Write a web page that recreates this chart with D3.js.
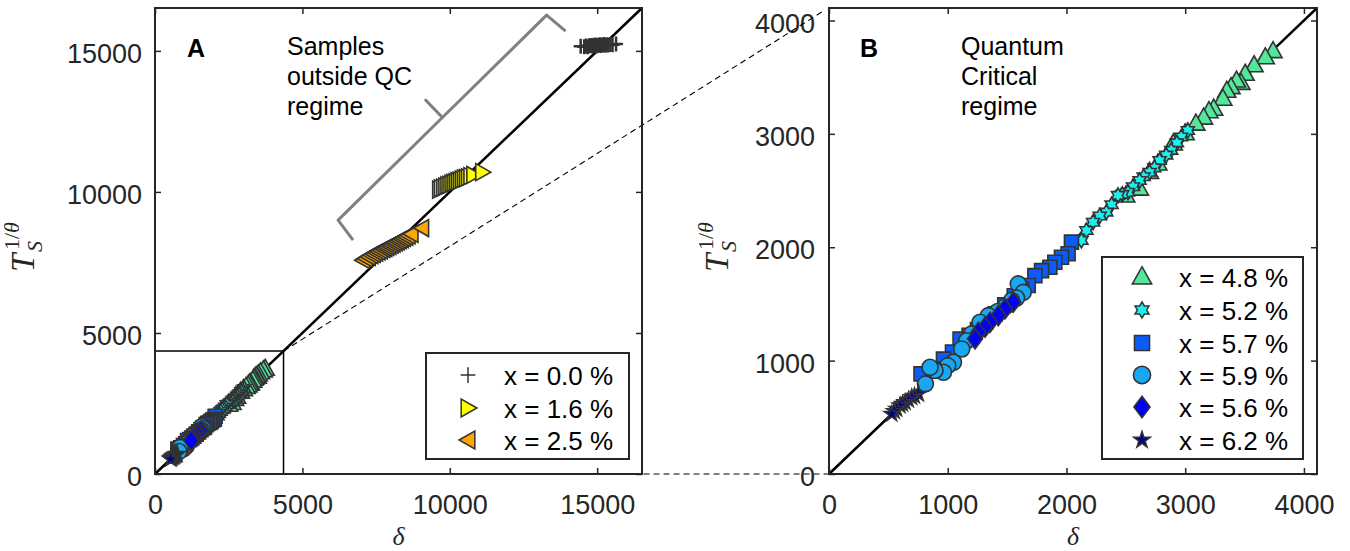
<!DOCTYPE html>
<html><head><meta charset="utf-8">
<script src="https://cdn.jsdelivr.net/npm/d3@7"></script>
<style>body{margin:0;background:#fff} svg{display:block}</style>
</head><body>
<svg id="chart" width="1350" height="551"></svg>
<script>
// ---------------- data ----------------
const x00Delta = [14440,14560,14620,14680,14730,14780,14830,14880,14920,14960,15000,15050,15090,15130,15180,15220,15270,15320,15380,15450,15520,15640];
const x00T     = [15160,15150,15170,15150,15180,15190,15170,15200,15190,15210,15180,15200,15220,15190,15210,15230,15200,15220,15210,15230,15220,15240];
const x16Delta = [9640,9700,9780,9850,9920,9990,10060,10130,10200,10270,10340,10410,10480,10550,10620,10700,10800,11100];
const x16T     = [10080,10130,10150,10190,10230,10250,10290,10320,10350,10380,10400,10440,10470,10490,10520,10560,10600,10700];
const x25Delta = [7060,7150,7250,7340,7420,7500,7580,7660,7740,7810,7880,7950,8020,8090,8160,8230,8300,8370,8440,8520,8600,8700,9060];
const x25T     = [7580,7640,7700,7760,7800,7850,7890,7930,7980,8010,8050,8090,8130,8170,8210,8250,8290,8330,8370,8410,8460,8510,8720];
const x48Delta = [3740,3675,3580,3505,3470,3432,3386,3350,3317,3240,3200,3155,3090,3000,2900,2770,2700,2615,2500];
const x48T     = [3730,3675,3605,3530,3450,3470,3412,3380,3310,3222,3200,3143,3090,3005,2915,2738,2665,2517,2456];
const x52Delta = [3022,2966,2930,2882,2840,2784,2740,2700,2650,2616,2560,2518,2470,2434,2380,2336,2280,2224,2168,2126];
const x52T     = [3030,2972,2920,2854,2812,2765,2700,2662,2622,2588,2534,2485,2466,2457,2375,2310,2276,2221,2148,2060];
const x57Delta = [2042,2014,1958,1902,1860,1790,1734,1678,1620,1560,1480,1400,1320,1250,1180,1104,1040,964,870,775];
const x57T     = [2045,1942,1912,1867,1824,1794,1750,1662,1630,1572,1492,1412,1343,1274,1224,1190,1075,1013,925,883];
const x59Delta = [1594,1636,1580,1538,1480,1420,1342,1272,1202,1160,1118,1048,1000,964,893,851,812];
const x59T     = [1677,1602,1552,1530,1473,1433,1397,1338,1236,1175,1103,985,956,897,913,941,795];
const x56Delta = [1552,1482,1426,1356,1314,1258,1230];
const x56T     = [1515,1456,1397,1338,1294,1250,1192];
const x62Delta = [754,720,697,670,641,620,599,570,550,529];
const x62T     = [706,688,676,653,633,617,603,574,554,530];

const ticksA = [0,5000,10000,15000];
const ticksB = [0,1000,2000,3000,4000];
const legendLabelsA = ["x = 0.0 %","x = 1.6 %","x = 2.5 %"];
const legendLabelsB = ["x = 4.8 %","x = 5.2 %","x = 5.7 %","x = 5.9 %","x = 5.6 %","x = 6.2 %"];
const notesA = ["Samples","outside QC","regime"];
const notesB = ["Quantum","Critical","regime"];
// brace annotation (data coords of panel A)
const braceMain = [[13928,15698],[13284,16265],[9749,12640],[6211,9001],[6720,8292]];
const braceTip  = [[9183,13253],[9749,12640]];
const insetMax = 4360;

// ---------------- setup ----------------
const svg = d3.select("#chart");
const AX = "#262626";
const SANS = "'Liberation Sans', Arial, Helvetica, sans-serif";
const SERIF = "'Liberation Serif', 'Times New Roman', serif";

function star(n, R, r){
  const pts=[];
  for(let i=0;i<2*n;i++){
    const a=-Math.PI/2 + i*Math.PI/n;
    const rr = i%2===0?R:r;
    pts.push([rr*Math.cos(a), rr*Math.sin(a)]);
  }
  return "M"+pts.map(p=>p[0].toFixed(2)+","+p[1].toFixed(2)).join("L")+"Z";
}
const shapes = {
  plus: k=>`M${-7*k},0H${7*k}M0,${-7.5*k}V${7.5*k}`,
  triRight: k=>`M${8.5*k},0L${-6.5*k},${-8.5*k}L${-6.5*k},${8.5*k}Z`,
  triLeft: k=>`M${-8.5*k},0L${6.5*k},${-8.5*k}L${6.5*k},${8.5*k}Z`,
  triUp: k=>`M0,${-9.5*k}L${9*k},${6.5*k}L${-9*k},${6.5*k}Z`,
  hexagram: k=>star(6, 7.5*k, 7.5*k/Math.sqrt(3)),
  square: k=>`M${-7*k},${-7*k}h${14*k}v${14*k}h${-14*k}Z`,
  circle: k=>`M${8*k},0A${8*k},${8*k} 0 1,1 ${-8*k},0A${8*k},${8*k} 0 1,1 ${8*k},0Z`,
  diamond: k=>`M0,${-10*k}L${7.5*k},0L0,${10*k}L${-7.5*k},0Z`,
  pentagram: k=>star(5, 8*k, 8*k*0.382)
};

const seriesA = [
  {d:x00Delta,t:x00T,shape:"plus",fill:"none",label:legendLabelsA[0]},
  {d:x16Delta,t:x16T,shape:"triRight",fill:"#ffff00",label:legendLabelsA[1]},
  {d:x25Delta,t:x25T,shape:"triLeft",fill:"#ffa500",label:legendLabelsA[2]}
];
const seriesB = [
  {d:x48Delta,t:x48T,shape:"triUp",fill:"#52e89c",label:legendLabelsB[0]},
  {d:x52Delta,t:x52T,shape:"hexagram",fill:"#19f0f0",label:legendLabelsB[1]},
  {d:x57Delta,t:x57T,shape:"square",fill:"#0a5cf8",label:legendLabelsB[2]},
  {d:x59Delta,t:x59T,shape:"circle",fill:"#18a8f2",label:legendLabelsB[3]},
  {d:x56Delta,t:x56T,shape:"diamond",fill:"#0303f2",label:legendLabelsB[4]},
  {d:x62Delta,t:x62T,shape:"pentagram",fill:"#000088",label:legendLabelsB[5]}
];

function drawMarkers(g, s, x, y){
  g.append("g").selectAll("path").data(s.d.map((v,i)=>[v,s.t[i]])).join("path")
    .attr("d", shapes[s.shape](1))
    .attr("transform", p=>`translate(${x(p[0])},${y(p[1])})`)
    .attr("fill", s.fill)
    .attr("stroke", "#333")
    .attr("stroke-width", s.shape==="plus"?2.5:1.6)
    .attr("stroke-linejoin","miter");
}

function panel(opt){
  const {left,right,top,bottom,max,ticks} = opt;
  const x = d3.scaleLinear().domain([0,max]).range([left,right]);
  const y = d3.scaleLinear().domain([0,max]).range([bottom,top]);
  const g = svg.append("g");
  const styleAxis = a => {
    a.select(".domain").remove();
    a.selectAll(".tick line").attr("stroke",AX).attr("stroke-width",1.5);
    a.selectAll(".tick text").attr("fill",AX).attr("font-family",SANS).attr("font-size",27);
  };
  g.append("g").attr("transform",`translate(0,${bottom})`)
    .call(d3.axisBottom(x).tickValues(ticks).tickSizeInner(-6).tickSizeOuter(0).tickPadding(21).tickFormat(d3.format("d")))
    .call(styleAxis);
  g.append("g").attr("transform",`translate(0,${top})`)
    .call(d3.axisTop(x).tickValues(ticks).tickSizeInner(-6).tickSizeOuter(0).tickFormat(""))
    .call(styleAxis);
  g.append("g").attr("transform",`translate(${left},0)`)
    .call(d3.axisLeft(y).tickValues(ticks).tickSizeInner(-6).tickSizeOuter(0).tickPadding(opt.ypad).tickFormat(d3.format("d")))
    .call(styleAxis)
    .selectAll(".tick text").attr("dy","0.43em");
  g.append("g").attr("transform",`translate(${right},0)`)
    .call(d3.axisRight(y).tickValues(ticks).tickSizeInner(-6).tickSizeOuter(0).tickFormat(""))
    .call(styleAxis);
  return {x,y,g};
}

const A = panel({left:155,right:642,top:8,bottom:474,max:16520,ticks:ticksA,ypad:13});
const B = panel({left:829,right:1317,top:8,bottom:474,max:4110,ticks:ticksB,ypad:14});

// connecting dashed lines
svg.append("line").attr("x1",A.x(insetMax)).attr("y1",A.y(insetMax)).attr("x2",B.x(0)-4).attr("y2",B.y(B.y.domain()[1])+2)
  .attr("stroke","#000").attr("stroke-width",1.1).attr("stroke-dasharray","6,4");
svg.append("line").attr("x1",A.x(insetMax)).attr("y1",A.y(0)).attr("x2",B.x(0)).attr("y2",B.y(0))
  .attr("stroke","#000").attr("stroke-width",1.1).attr("stroke-dasharray","6,4");

// panel A content
A.g.append("line").attr("x1",A.x(0)).attr("y1",A.y(0)).attr("x2",A.x(16520)).attr("y2",A.y(16520))
  .attr("stroke","#000").attr("stroke-width",2.5);
A.g.append("rect").attr("x",A.x(0)).attr("y",A.y(insetMax)).attr("width",A.x(insetMax)-A.x(0)).attr("height",A.y(0)-A.y(insetMax))
  .attr("fill","none").attr("stroke","#000").attr("stroke-width",1.5);
seriesB.forEach(s=>drawMarkers(A.g,s,A.x,A.y));
seriesA.forEach(s=>drawMarkers(A.g,s,A.x,A.y));
const braceLine = d3.line().x(p=>A.x(p[0])).y(p=>A.y(p[1]));
A.g.append("path").attr("d",braceLine(braceMain)).attr("fill","none").attr("stroke","#808080").attr("stroke-width",3).attr("stroke-linejoin","round");
A.g.append("path").attr("d",braceLine(braceTip)).attr("fill","none").attr("stroke","#808080").attr("stroke-width",3).attr("stroke-linecap","round");

// panel B content
B.g.append("line").attr("x1",B.x(0)).attr("y1",B.y(0)).attr("x2",B.x(4110)).attr("y2",B.y(4110))
  .attr("stroke","#000").attr("stroke-width",2.5);
seriesB.forEach(s=>drawMarkers(B.g,s,B.x,B.y));

// frames
[[155,642],[829,1317]].forEach(([l,r])=>{
  svg.append("rect").attr("x",l).attr("y",8).attr("width",r-l).attr("height",466)
    .attr("fill","none").attr("stroke",AX).attr("stroke-width",2);
});

// panel letters and notes
svg.append("text").attr("x",187).attr("y",57).text("A").attr("font-family",SANS).attr("font-weight","bold").attr("font-size",25).attr("fill","#000");
svg.append("text").attr("x",860).attr("y",57).text("B").attr("font-family",SANS).attr("font-weight","bold").attr("font-size",25).attr("fill","#000");
notesA.forEach((t,i)=>svg.append("text").attr("x",287).attr("y",55+30*i).text(t).attr("font-family",SANS).attr("font-size",25).attr("fill","#000"));
notesB.forEach((t,i)=>svg.append("text").attr("x",961).attr("y",55+30*i).text(t).attr("font-family",SANS).attr("font-size",25).attr("fill","#000"));

// legends
function legend(x0,y0,w,h,rows,series,mx,tx,k){
  svg.append("rect").attr("x",x0).attr("y",y0).attr("width",w).attr("height",h)
    .attr("fill","#fff").attr("stroke",AX).attr("stroke-width",2);
  series.forEach((s,i)=>{
    svg.append("path").attr("d",shapes[s.shape](k)).attr("transform",`translate(${mx},${rows[i]})`)
      .attr("fill",s.fill).attr("stroke","#333").attr("stroke-width",1.5);
    svg.append("text").attr("x",tx).attr("y",rows[i]+9.5).text(s.label)
      .attr("font-family",SANS).attr("font-size",26).attr("fill","#000");
  });
}
legend(426,353,203,106,[375,408,440],seriesA,468,504,1.05);
legend(1102,257,201,202,[277,310,343,375,407,440],seriesB,1142,1179,1.08);

// axis labels
function xlabel(cx){
  svg.append("text").attr("x",cx).attr("y",545.3).attr("text-anchor","middle").text("δ")
    .attr("font-family",SERIF).attr("font-style","italic").attr("font-size",26).attr("fill",AX);
}
xlabel(398.5); xlabel(1073);
function ylabel(bx, cy){
  const g = svg.append("g").attr("transform",`translate(${bx},${cy+28}) rotate(-90)`);
  g.append("text").attr("x",0).attr("y",0).text("T").attr("font-family",SERIF).attr("font-style","italic").attr("font-size",33).attr("fill",AX);
  g.append("text").attr("x",20).attr("y",8).text("S").attr("font-family",SERIF).attr("font-style","italic").attr("font-size",22).attr("fill",AX);
  const sup = g.append("text").attr("x",22).attr("y",-15).attr("font-family",SERIF).attr("font-size",22).attr("fill",AX);
  sup.append("tspan").text("1/");
  sup.append("tspan").attr("font-style","italic").text("θ");
}
ylabel(34,244); ylabel(728,244);
</script>
</body></html>
